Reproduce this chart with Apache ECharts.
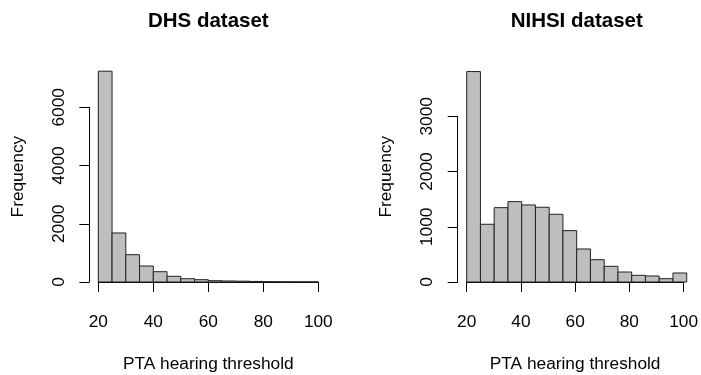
<!DOCTYPE html>
<html><head><meta charset="utf-8">
<script src="https://cdn.jsdelivr.net/npm/echarts@6/dist/echarts.min.js"></script>
<style>html,body{margin:0;padding:0;background:#fff}#c{width:701px;height:375px}</style>
</head><body><div id="c"></div>
<script>
// ---- data ----
const binEdges = [20,25,30,35,40,45,50,55,60,65,70,75,80,85,90,95,100];
const dhsCounts = [7240,1684,938,550,354,196,113,79,45,35,28,20,12,8,5,5];
const nihsiCounts = [3810,1045,1346,1455,1395,1353,1226,930,598,404,284,181,121,109,60,163];
const xTicks = [20,40,60,80,100];
const dhsYTicks = [0,2000,4000,6000];
const nihsiYTicks = [0,1000,2000,3000];
const panelTitles = ['DHS dataset','NIHSI dataset'];
const xLabel = 'PTA hearing threshold';
const yLabel = 'Frequency';

// ---- layout (pixels) ----
const FONT = 'Liberation Sans, Arial, Helvetica, sans-serif';
const panels = [
  {title: panelTitles[0], counts: dhsCounts, yTicks: dhsYTicks, x0: 98.3, x1: 318.3, y0: 282, yTopPx: 107.3},
  {title: panelTitles[1], counts: nihsiCounts, yTicks: nihsiYTicks, x0: 466.7, x1: 686.7, y0: 282, yTopPx: 116.3}
];
const xAxisPx = 291.7;   // R axis line location (bottom)
const yAxisGap = 9;      // y axis line left of first bin

const chart = echarts.init(document.getElementById('c'), null, {renderer: 'canvas'});
const grid = [], xAxis = [], yAxis = [], series = [], title = [];
const plain = v => String(v);

panels.forEach((p, i) => {
  const yTopVal = p.yTicks[p.yTicks.length - 1];
  const s = (p.y0 - p.yTopPx) / yTopVal;           // px per unit
  const maxC = Math.max(...p.counts);
  const yMax = maxC * 1.04, yMin = -maxC * 0.04;   // R usr extension
  const w = p.x1 - p.x0;
  const ga = grid.length, gb = ga + 1;
  grid.push({left: p.x0, top: p.y0 - yMax * s, width: w, height: (yMax - yMin) * s, containLabel: false});
  grid.push({left: p.x0, top: p.yTopPx, width: w, height: p.y0 - p.yTopPx, containLabel: false});

  xAxis.push({gridIndex: ga, type: 'value', min: binEdges[0], max: binEdges[binEdges.length-1], show: false});
  yAxis.push({gridIndex: ga, type: 'value', min: yMin, max: yMax, position: 'left', offset: yAxisGap,
    axisLine: {show: false}, axisTick: {show: false}, axisLabel: {show: false}, splitLine: {show: false},
    name: yLabel, nameLocation: 'middle', nameRotate: 90, nameGap: 62.5,
    nameTextStyle: {fontFamily: FONT, fontSize: 17.3, color: '#000'}});

  xAxis.push({gridIndex: gb, type: 'value', min: xTicks[0], max: xTicks[xTicks.length-1], interval: xTicks[1]-xTicks[0],
    position: 'bottom', offset: xAxisPx - p.y0,
    axisLine: {show: true, lineStyle: {color: '#000', width: 1}},
    axisTick: {show: true, length: 10, lineStyle: {color: '#000', width: 1}},
    axisLabel: {show: true, margin: 22, formatter: plain, fontFamily: FONT, fontSize: 17.3, color: '#000', showMinLabel: true, showMaxLabel: true},
    splitLine: {show: false},
    name: xLabel, nameLocation: 'middle', nameGap: 64,
    nameTextStyle: {fontFamily: FONT, fontSize: 17.3, color: '#000'}});
  yAxis.push({gridIndex: gb, type: 'value', min: p.yTicks[0], max: yTopVal, interval: p.yTicks[1]-p.yTicks[0],
    position: 'left', offset: yAxisGap,
    axisLine: {show: true, lineStyle: {color: '#000', width: 1}},
    axisTick: {show: true, length: 10, lineStyle: {color: '#000', width: 1}},
    axisLabel: {show: true, rotate: 90, margin: 21.5, formatter: plain, fontFamily: FONT, fontSize: 17.3, color: '#000', showMinLabel: true, showMaxLabel: true},
    splitLine: {show: false}});

  const data = p.counts.map((c, k) => [binEdges[k], binEdges[k+1], c]);
  series.push({type: 'custom', xAxisIndex: xAxis.length - 2, yAxisIndex: yAxis.length - 2, data: data,
    encode: {x: [0, 1], y: 2},
    renderItem: (params, api) => {
      const a = api.coord([api.value(0), api.value(2)]);
      const b = api.coord([api.value(1), 0]);
      return {type: 'rect', shape: {x: a[0], y: a[1], width: b[0] - a[0], height: b[1] - a[1]},
        style: {fill: '#bebebe', stroke: '#222', lineWidth: 1}};
    }});

  const plotLeft = p.x0 - w * 0.04, plotRight = p.x1 + w * 0.04;
  title.push({text: p.title, left: (plotLeft + plotRight) / 2, top: 11, textAlign: 'center', padding: 0,
    textStyle: {fontFamily: FONT, fontSize: 20.5, fontWeight: 'bold', color: '#000'}});
});

chart.setOption({animation: false, backgroundColor: '#fff', title, grid, xAxis, yAxis, series});
</script></body></html>
